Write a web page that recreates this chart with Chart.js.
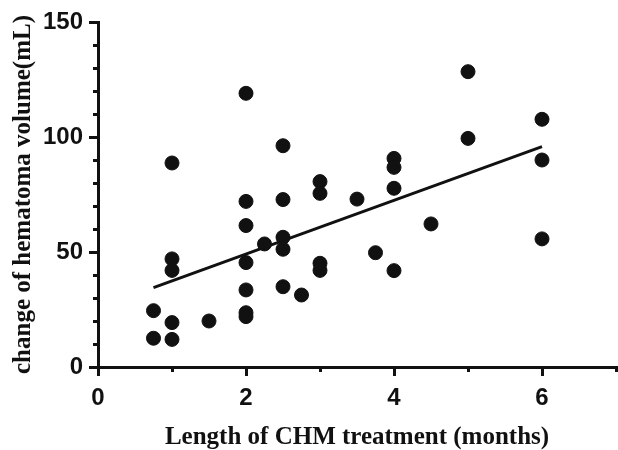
<!DOCTYPE html>
<html>
<head>
<meta charset="utf-8">
<script src="https://cdn.jsdelivr.net/npm/chart.js@4/dist/chart.umd.min.js"></script>
<style>
  html, body { margin: 0; padding: 0; background: #fff; }
  #wrap { width: 618px; height: 450px; position: relative; }
</style>
</head>
<body>
<div id="wrap"><canvas id="chart"></canvas></div>
<script>
// treatment length (months) and matching change of hematoma volume (mL)
const months = [
  0.75, 0.75,
  1, 1, 1, 1, 1,
  1.5,
  2, 2, 2, 2, 2, 2, 2,
  2.25,
  2.5, 2.5, 2.5, 2.5, 2.5,
  2.75,
  3, 3, 3, 3,
  3.5,
  3.75,
  4, 4, 4, 4,
  4.5,
  5, 5,
  6, 6, 6
]
const volume = [
  24.5, 12.5,
  88.7, 47, 42, 19.3, 12,
  20,
  119, 72, 61.5, 45.4, 33.5, 23.6, 21.9,
  53.5,
  96.2, 72.8, 56.4, 51.2, 34.9,
  31.3,
  80.6, 75.5, 45.1, 42,
  73,
  49.7,
  90.7, 86.8, 77.7, 41.9,
  62.2,
  128.4, 99.4,
  107.7, 90, 55.7
]

// regression line end points
const fitX = [0.75, 6]
const fitY = [34.5, 95.8]

const xTicks = [0, 2, 4, 6]
const xMinorTicks = [1, 3, 5, 7]
const yTicks = [0, 50, 100, 150]
const yMinorTicks = [10, 20, 30, 40, 60, 70, 80, 90, 110, 120, 130, 140]

const xTitle = "Length of CHM treatment (months)"
const yTitle = "change of hematoma volume(mL)"

const ink = "#111"

const minorTicks = {
  id: "minorTicks",
  afterDraw(chart) {
    const { ctx, scales: { x, y } } = chart
    ctx.save()
    ctx.strokeStyle = ink
    ctx.lineWidth = 3
    ctx.beginPath()
    yMinorTicks.forEach(v => {
      const py = Math.round(y.getPixelForValue(v)) + 0.5
      ctx.moveTo(y.right - 5, py)
      ctx.lineTo(y.right, py)
    })
    xMinorTicks.forEach(v => {
      const px = Math.round(x.getPixelForValue(v)) + 0.5
      ctx.moveTo(px, x.top)
      ctx.lineTo(px, x.top + 5)
    })
    ctx.stroke()
    ctx.restore()
  }
}

new Chart(document.getElementById("chart"), {
  type: "scatter",
  data: {
    datasets: [
      {
        data: months.map((m, i) => ({ x: m, y: volume[i] })),
        backgroundColor: ink,
        borderColor: ink,
        pointRadius: 7,
        pointHoverRadius: 7
      },
      {
        type: "line",
        data: fitX.map((m, i) => ({ x: m, y: fitY[i] })),
        borderColor: ink,
        borderWidth: 3,
        pointRadius: 0,
        fill: false
      }
    ]
  },
  options: {
    responsive: true,
    maintainAspectRatio: false,
    animation: false,
    layout: { autoPadding: false, padding: { top: 22, right: 2, left: 0, bottom: 0 } },
    plugins: { legend: { display: false }, tooltip: { enabled: false } },
    scales: {
      x: {
        type: "linear",
        min: 0,
        max: 7,
        afterBuildTicks: s => { s.ticks = xTicks.map(v => ({ value: v })) },
        afterFit: s => { s.height = 83; s.paddingLeft = 0; s.paddingRight = 0 },
        grid: { drawOnChartArea: false, tickLength: 9, lineWidth: 3, color: ink },
        border: { width: 3, color: ink },
        ticks: {
          color: ink,
          padding: 8,
          font: { family: "'Liberation Sans', Arial, sans-serif", size: 24, weight: "bold" }
        },
        title: {
          display: true,
          text: xTitle,
          color: ink,
          padding: 0,
          font: { family: "'Liberation Serif', 'Times New Roman', serif", size: 25, weight: "bold", lineHeight: 1 }
        }
      },
      y: {
        type: "linear",
        min: 0,
        max: 150,
        afterBuildTicks: s => { s.ticks = yTicks.map(v => ({ value: v })) },
        afterFit: s => { s.width = 98; s.paddingTop = 0; s.paddingBottom = 0 },
        grid: { drawOnChartArea: false, tickLength: 9, lineWidth: 3, color: ink },
        border: { width: 3, color: ink },
        ticks: {
          color: ink,
          padding: 6,
          font: { family: "'Liberation Sans', Arial, sans-serif", size: 24, weight: "bold" }
        },
        title: {
          display: true,
          text: yTitle,
          color: ink,
          padding: { top: 11, bottom: 0 },
          font: { family: "'Liberation Serif', 'Times New Roman', serif", size: 25, weight: "bold", lineHeight: 1 }
        }
      }
    }
  },
  plugins: [minorTicks]
})
</script>
</body>
</html>
